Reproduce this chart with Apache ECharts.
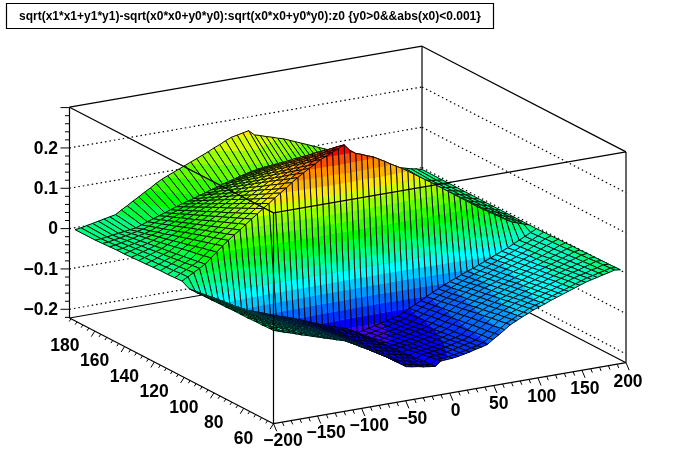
<!DOCTYPE html>
<html><head><meta charset="utf-8">
<style>html,body{margin:0;padding:0;background:#fff}#c{width:696px;height:472px}</style>
<script src="https://cdn.jsdelivr.net/npm/echarts@6/dist/echarts.min.js"></script>
</head><body><div id="c"></div>
<script>
const titleText = "sqrt(x1*x1+y1*y1)-sqrt(x0*x0+y0*y0):sqrt(x0*x0+y0*y0):z0 {y0>0&&abs(x0)<0.001}";
const xTickValues = [-200,-150,-100,-50,0,50,100,150,200];
const xTickLabels = ["\u2212200","\u2212150","\u2212100","\u221250","0","50","100","150","200"];
const yTickValues = [60,80,100,120,140,160,180];
const zTickValues = [0.2,0.1,0,-0.1,-0.2];
const zTickLabels = ["0.2","0.1","0","\u22120.1","\u22120.2"];
const xEdges = [-200,-193.3,-186.7,-180,-173.3,-166.7,-160,-153.3,-146.7,-140,-133.3,-126.7,-120,-113.3,-106.7,-100,-93.3,-86.7,-80,-73.3,-66.7,-60,-53.3,-46.7,-40,-33.3,-26.7,-20,-13.3,-6.7,0,6.7,13.3,20,26.7,33.3,40,46.7,53.3,60,66.7,73.3,80,86.7,93.3,100,106.7,113.3,120,126.7,133.3,140,146.7,153.3,160,166.7,173.3,180,186.7,193.3,200];
const rEdges = [60,63,68,73,78,83,88,93,98,103,108,113,118,123,128,133,138,143,148,153,158,163,168,173,178,183,197];
// surface height in thousandths, one row per rEdges value, one column per xEdges value
const surfaceMilli = [
[5,0,-5,-9,-14,-19,-23,-28,-32,-37,-41,-46,-50,-55,-63,-71,-79,-88,-96,-105,-113,-121,-132,-142,-145,-147,-150,-152,-154,-143,-142,-141,-139,-136,-133,-129,-126,-122,-112,-103,-93,-83,-76,-69,-63,-56,-51,-46,-40,-35,-30,-25,-20,-15,-10,-6,-3,1,4,8,6],
[5,0,-6,-10,-15,-20,-24,-29,-34,-39,-43,-48,-52,-57,-65,-73,-81,-89,-97,-106,-114,-122,-132,-142,-145,-147,-151,-153,-155,-145,-144,-143,-141,-138,-135,-131,-128,-123,-114,-105,-95,-85,-78,-71,-65,-58,-53,-48,-42,-37,-32,-27,-22,-17,-12,-7,-4,0,3,7,6],
[4,-1,-7,-11,-16,-22,-26,-32,-36,-42,-46,-51,-55,-60,-68,-76,-83,-92,-99,-108,-115,-123,-133,-143,-146,-148,-152,-154,-157,-148,-147,-146,-143,-140,-137,-133,-130,-126,-116,-108,-98,-88,-81,-74,-68,-61,-56,-51,-45,-40,-35,-30,-25,-19,-14,-10,-7,-2,1,6,5],
[4,-2,-7,-12,-18,-23,-28,-34,-39,-44,-49,-54,-58,-63,-71,-78,-86,-94,-101,-109,-117,-124,-134,-143,-147,-149,-152,-155,-158,-151,-150,-148,-146,-143,-140,-136,-133,-128,-119,-110,-101,-91,-84,-77,-71,-64,-59,-54,-48,-43,-38,-32,-27,-22,-17,-12,-9,-4,0,5,5],
[3,-2,-8,-14,-19,-25,-30,-36,-42,-47,-52,-57,-62,-67,-74,-81,-88,-96,-103,-111,-118,-125,-135,-143,-147,-150,-153,-156,-160,-155,-153,-152,-149,-146,-143,-139,-136,-131,-122,-113,-104,-95,-88,-81,-74,-68,-62,-57,-51,-46,-41,-36,-30,-25,-20,-15,-11,-6,-2,3,4],
[3,-3,-9,-15,-21,-27,-33,-39,-44,-50,-56,-61,-65,-70,-77,-84,-91,-98,-105,-113,-119,-127,-136,-144,-148,-151,-154,-157,-161,-158,-156,-155,-152,-149,-145,-142,-138,-133,-124,-116,-107,-98,-91,-84,-78,-71,-66,-60,-54,-49,-44,-39,-33,-28,-22,-18,-13,-8,-3,2,4],
[3,-4,-10,-16,-22,-29,-35,-41,-47,-53,-59,-64,-68,-73,-80,-87,-93,-100,-107,-114,-121,-128,-136,-144,-148,-151,-155,-158,-163,-161,-159,-157,-154,-151,-148,-144,-141,-135,-127,-119,-110,-101,-94,-87,-81,-74,-69,-63,-57,-52,-47,-41,-36,-30,-25,-20,-15,-10,-5,1,3],
[2,-5,-11,-18,-24,-30,-37,-43,-50,-56,-62,-67,-72,-77,-84,-90,-96,-102,-109,-116,-122,-129,-137,-144,-149,-152,-156,-159,-164,-165,-163,-160,-157,-154,-151,-147,-144,-138,-130,-122,-114,-105,-98,-91,-84,-78,-72,-67,-61,-56,-50,-44,-39,-33,-28,-23,-17,-12,-6,-1,3],
[2,-5,-12,-19,-25,-32,-39,-46,-52,-59,-65,-70,-75,-80,-87,-93,-99,-105,-111,-118,-124,-130,-138,-145,-150,-153,-157,-161,-166,-168,-166,-163,-160,-157,-153,-150,-146,-140,-132,-125,-117,-108,-101,-94,-87,-81,-75,-70,-64,-59,-53,-47,-42,-36,-30,-25,-20,-14,-8,-2,2],
[1,-6,-13,-20,-27,-34,-41,-48,-55,-61,-68,-73,-78,-83,-90,-95,-101,-107,-112,-119,-125,-131,-139,-145,-150,-154,-158,-162,-167,-171,-169,-166,-163,-160,-156,-153,-149,-143,-135,-127,-120,-111,-104,-97,-90,-84,-78,-73,-67,-62,-56,-50,-44,-39,-33,-27,-22,-15,-9,-3,2],
[1,-7,-14,-21,-28,-36,-43,-50,-58,-64,-72,-77,-82,-87,-93,-98,-104,-109,-114,-121,-126,-133,-139,-145,-151,-154,-159,-163,-169,-175,-172,-169,-166,-163,-159,-156,-152,-145,-138,-130,-123,-115,-108,-101,-94,-88,-82,-76,-70,-65,-59,-53,-47,-42,-36,-30,-24,-17,-11,-4,1],
[0,-7,-15,-23,-29,-37,-45,-53,-60,-67,-75,-80,-85,-90,-96,-101,-106,-111,-116,-122,-128,-134,-140,-146,-151,-155,-160,-164,-170,-178,-175,-172,-168,-165,-161,-158,-154,-147,-140,-133,-126,-118,-111,-104,-97,-91,-85,-79,-73,-68,-62,-56,-50,-44,-38,-32,-26,-19,-13,-6,1],
[0,-8,-16,-24,-31,-39,-47,-55,-63,-70,-78,-83,-88,-93,-99,-104,-109,-113,-118,-124,-129,-135,-141,-146,-152,-156,-161,-165,-172,-181,-178,-175,-171,-168,-164,-161,-157,-150,-143,-136,-129,-121,-114,-107,-100,-94,-88,-82,-76,-71,-65,-59,-53,-47,-41,-35,-28,-21,-14,-7,0],
[10,18,26,34,42,55,67,80,91,102,112,123,134,144,155,165,176,186,196,207,217,226,235,243,252,258,265,271,278,262,252,247,241,236,228,220,211,203,195,186,176,167,157,148,138,128,118,108,98,88,78,68,59,50,41,32,23,15,10,5,0],
[9,17,24,32,39,51,62,74,85,95,105,116,126,136,146,156,166,176,185,196,205,214,222,230,239,245,251,257,264,249,240,235,229,225,217,209,201,193,186,177,167,159,149,141,131,122,112,103,93,83,74,64,56,47,39,30,22,14,10,5,0],
[8,15,22,29,36,47,58,69,79,89,98,108,118,127,137,146,156,165,174,184,193,202,210,217,225,231,237,243,249,236,228,223,218,213,206,199,191,183,176,168,159,151,142,133,125,116,106,97,88,79,70,60,52,44,36,29,21,14,9,5,0],
[8,14,20,27,33,44,53,63,73,82,91,101,110,119,128,137,146,155,164,173,182,189,197,204,212,218,224,229,235,224,217,211,206,202,195,188,181,174,167,159,150,143,134,126,118,109,101,92,83,74,66,57,49,42,34,27,20,13,9,4,0],
[7,12,18,24,30,40,48,58,67,76,84,93,102,110,119,128,136,144,153,161,170,177,185,191,199,204,210,215,221,211,205,199,194,190,184,177,170,164,157,150,142,134,126,119,111,103,95,86,78,70,61,53,46,39,32,25,18,12,8,4,0],
[6,11,16,22,27,36,44,52,61,69,77,86,94,102,110,118,126,134,142,150,158,165,172,178,185,191,196,201,206,198,193,187,183,178,173,167,160,154,147,141,133,126,119,112,104,97,89,81,73,65,57,49,42,36,30,24,17,12,8,4,0],
[5,10,15,20,25,32,39,47,55,63,70,78,86,94,102,109,117,124,131,139,146,153,160,166,172,177,183,187,192,185,181,176,171,167,162,156,150,144,138,132,125,118,111,105,98,91,83,76,68,61,53,46,39,33,28,22,16,11,7,4,0],
[4,8,13,17,22,28,34,41,48,56,63,70,78,85,93,100,107,113,120,127,134,140,147,153,159,164,169,173,178,172,169,164,159,155,150,145,140,134,129,122,116,110,103,97,91,84,77,70,63,56,49,42,36,30,25,20,15,10,7,3,0],
[3,7,11,15,19,24,30,35,42,49,56,63,70,77,84,90,97,103,109,116,122,128,134,140,145,150,155,159,163,159,157,152,148,144,139,135,130,124,119,113,107,102,96,90,84,78,71,65,58,51,45,38,32,27,23,19,14,10,6,3,0],
[3,5,9,12,16,21,25,30,36,43,49,56,62,68,75,81,87,92,98,104,111,116,122,127,132,137,141,145,149,147,146,140,136,132,128,124,120,115,110,104,99,94,88,83,77,72,66,59,53,47,40,34,29,25,21,17,13,9,6,3,0],
[2,4,7,10,13,17,20,24,30,36,42,48,54,60,66,72,77,82,88,93,99,104,109,114,119,123,127,131,135,134,134,128,124,121,117,113,109,105,100,95,90,85,80,76,71,66,60,54,48,42,36,30,26,22,19,15,11,8,5,3,0],
[1,2,5,7,10,13,16,19,24,30,35,41,46,51,57,62,67,71,77,81,87,91,97,101,105,110,114,117,120,121,122,116,113,110,106,103,99,95,90,86,82,77,73,68,64,59,54,48,43,38,32,27,22,19,16,14,10,8,5,2,0],
[0,1,3,5,7,9,11,13,18,23,28,33,38,43,48,53,57,61,66,70,75,79,84,88,92,96,100,103,106,108,110,104,101,98,95,92,89,85,81,77,73,69,65,61,57,53,48,43,38,33,28,23,19,16,14,12,9,7,4,2,0],
[0,2,5,8,11,14,17,20,29,37,46,54,63,71,80,88,94,100,106,112,118,124,130,136,143,149,156,162,165,168,171,158,154,149,145,140,136,130,124,118,112,106,100,94,88,82,75,67,60,52,45,37,30,26,22,19,15,11,7,4,0]
];
const paletteColors = ["#4000ff","#0000ff","#0033ff","#0066ff","#0099ff","#00ccff","#00ffff","#00ffc0","#00ff80","#00ff40","#00ff00","#32ff00","#64ff00","#96ff00","#d2ff00","#ffe600","#ffb400","#ff8c00","#ff5000","#ff0000"];
const contourMin=-0.19, contourMax=0.28;

const xMin=-200,xMax=200,yMin=60,yMax=197,zMin=-0.2216,zMax=0.301;
// projection of the 3D frame
const O=[273.5,423.7], EX=[352.5,-61], EY=[-204,-105.7], EZ=[0,-210.8];
function proj(x,y,z){
  const a=(x-xMin)/(xMax-xMin),b=(y-yMin)/(yMax-yMin),c=(z-zMin)/(zMax-zMin);
  return [O[0]+a*EX[0]+b*EY[0]+c*EZ[0], O[1]+a*EX[1]+b*EY[1]+c*EZ[1]];
}
// the surface runs between bin centres, a little inside the frame
const surfaceX=x=>x*0.985, surfaceR=r=>62+(r-60)*0.971;
const levelStep=(contourMax-contourMin)/paletteColors.length;
function clip(poly,lvl,above){
  const out=[];
  for(let k=0;k<poly.length;k++){
    const p=poly[k],q=poly[(k+1)%poly.length];
    const pin=above?p[2]>=lvl:p[2]<=lvl, qin=above?q[2]>=lvl:q[2]<=lvl;
    if(pin)out.push(p);
    if(pin!==qin){const t=(lvl-p[2])/(q[2]-p[2]);out.push([p[0]+t*(q[0]-p[0]),p[1]+t*(q[1]-p[1]),lvl]);}
  }
  return out;
}
const cellData=[];
for(let j=rEdges.length-2;j>=0;j--)for(let i=xEdges.length-2;i>=0;i--)cellData.push([i,j]);

function renderCell(params,api){
  const i=api.value(0),j=api.value(1);
  const cs=[[i,j],[i+1,j],[i+1,j+1],[i,j+1]].map(([u,v])=>{
    const z=surfaceMilli[v][u]/1000, p=api.coord(proj(surfaceX(xEdges[u]),surfaceR(rEdges[v]),z));
    return [p[0],p[1],z];
  });
  const children=[];
  const zs=cs.map(c=>c[2]);
  const n=paletteColors.length;
  const l0=Math.max(0,Math.floor((Math.min(...zs)-contourMin)/levelStep));
  const l1=Math.min(n-1,Math.floor((Math.max(...zs)-contourMin)/levelStep));
  for(let l=l0;l<=l1;l++){
    let poly=l===0?cs:clip(cs,contourMin+l*levelStep,true);
    if(poly.length&&l<n-1)poly=clip(poly,contourMin+(l+1)*levelStep,false);
    if(poly.length>2)children.push({type:'polygon',silent:true,shape:{points:poly.map(p=>[p[0],p[1]])},
      style:{fill:paletteColors[l],stroke:paletteColors[l],lineWidth:0.5}});
  }
  children.push({type:'polygon',silent:true,shape:{points:cs.map(p=>[p[0],p[1]])},style:{fill:'none',stroke:'#000',lineWidth:0.95}});
  return {type:'group',children};
}

function seg(api,a,b,w,dash){
  const p=api.coord(a),q=api.coord(b);
  return {type:'line',silent:true,shape:{x1:p[0],y1:p[1],x2:q[0],y2:q[1]},style:{stroke:'#000',lineWidth:w||1.2,lineDash:dash||null}};
}
function once(fn){return (params,api)=>params.dataIndex===0?{type:'group',children:fn(api)}:null;}

const backFrame=once(api=>{
  const C=proj, out=[];
  out.push(seg(api,C(xMin,yMax,zMax),C(xMax,yMax,zMax)));
  out.push(seg(api,C(xMax,yMax,zMax),C(xMax,yMin,zMax)));
  out.push(seg(api,C(xMax,yMax,zMin),C(xMax,yMax,zMax)));
  out.push(seg(api,C(xMin,yMax,zMin),C(xMax,yMax,zMin)));
  out.push(seg(api,C(xMax,yMax,zMin),C(xMax,yMin,zMin)));
  zTickValues.forEach(z=>{
    out.push(seg(api,C(xMin,yMax,z),C(xMax,yMax,z),1.2,[1.5,3]));
    out.push(seg(api,C(xMax,yMax,z),C(xMax,yMin,z),1.2,[1.5,3]));
  });
  return out;
});
const frontFrame=once(api=>{
  const C=proj, out=[];
  out.push(seg(api,C(xMin,yMax,zMax),C(xMin,yMin,zMax)));
  out.push(seg(api,C(xMin,yMin,zMax),C(xMax,yMin,zMax)));
  out.push(seg(api,C(xMin,yMin,zMin),C(xMin,yMin,zMax)));
  out.push(seg(api,C(xMin,yMax,zMin),C(xMin,yMax,zMax)));
  out.push(seg(api,C(xMax,yMin,zMin),C(xMax,yMin,zMax)));
  out.push(seg(api,C(xMin,yMax,zMin),C(xMin,yMin,zMin)));
  out.push(seg(api,C(xMin,yMin,zMin),C(xMax,yMin,zMin)));
  for(let v=xMin;v<=xMax;v+=10){
    const p=C(v,yMin,zMin),m=(v%50===0)?1:0.5;
    out.push(seg(api,p,[p[0]+3.2*m,p[1]+7.5*m],1));
  }
  for(let v=yMin;v<=yMax;v+=4){
    const p=C(xMin,v,zMin),m=((v-yMin)%20===0)?1:0.5;
    out.push(seg(api,p,[p[0]-3.5*m,p[1]+5.5*m],1));
  }
  for(let k=-11;k<=15;k++){
    const p=C(xMin,yMax,k*0.02),m=(k%5===0)?1:0.5;
    out.push(seg(api,p,[p[0]-9*m,p[1]],1));
  }
  const font='bold 17.5px "Liberation Sans"';
  const text=(t,pos,align)=>{const q=api.coord(pos);return {type:'text',silent:true,x:q[0],y:q[1],
    style:{text:t,font,fill:'#000',align:align||'center',verticalAlign:'middle'}};};
  xTickValues.forEach((v,k)=>{
    const a=(v-xMin)/(xMax-xMin),p=C(v,yMin,zMin);
    out.push(text(xTickLabels[k],[p[0]+9.5-7.5*a,p[1]+17.3+2*a]));
  });
  yTickValues.forEach(v=>{
    const p=C(xMin,v,zMin);
    out.push(text(String(v),[p[0]-30,p[1]+15]));
  });
  zTickValues.forEach((v,k)=>{
    const p=C(xMin,yMax,v);
    out.push(text(zTickLabels[k],[p[0]-11.5,p[1]+1],'right'));
  });
  return out;
});

const chart=echarts.init(document.getElementById('c'),null,{renderer:'canvas'});
chart.setOption({
  animation:false,
  backgroundColor:'#fff',
  title:{text:titleText,left:6,top:3,padding:[7,13,6,13],borderColor:'#000',borderWidth:1.2,
    textStyle:{fontFamily:'"Liberation Sans"',fontWeight:'bold',fontSize:12,color:'#000',lineHeight:13}},
  grid:{left:0,right:0,top:0,bottom:0},
  xAxis:{type:'value',min:0,max:696,show:false},
  yAxis:{type:'value',min:0,max:472,inverse:true,show:false},
  series:[
    {type:'custom',coordinateSystem:'cartesian2d',clip:false,silent:true,renderItem:backFrame,data:[[0,0]],z:1},
    {type:'custom',coordinateSystem:'cartesian2d',clip:false,silent:true,renderItem:renderCell,data:cellData,progressive:0,z:2},
    {type:'custom',coordinateSystem:'cartesian2d',clip:false,silent:true,renderItem:frontFrame,data:[[0,0]],z:3}
  ]
});
</script></body></html>
